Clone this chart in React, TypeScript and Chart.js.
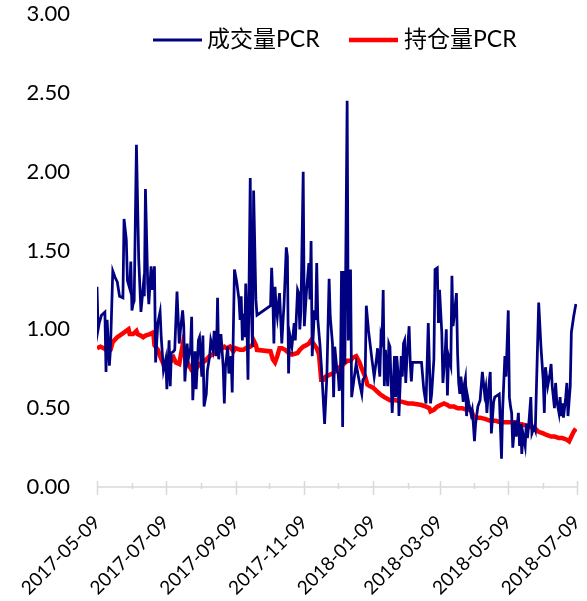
import React, { useEffect, useRef } from 'react';
import { Chart, registerables } from 'chart.js';

Chart.register(...registerables);

// Dates on the x axis (days counted from the first tick label)
const xTickLabels = ['2017-05-09', '2017-07-09', '2017-09-09', '2017-11-09', '2018-01-09', '2018-03-09', '2018-05-09', '2018-07-09'];
const minorTickDates = ['2017-06-09', '2017-08-09', '2017-10-09', '2017-12-09', '2018-02-09', '2018-04-09', '2018-06-09'];
const seriesNames = ['成交量PCR', '持仓量PCR'];

// 成交量PCR : trading day (days since 2017-05-09) and value
const volumeDays = [0, 1, 2, 4, 7, 8, 9, 11, 12, 14, 16, 18, 20, 23, 24, 26, 27, 29, 30, 31, 32, 33, 35, 37, 39, 41, 42, 43, 45, 46, 48, 49, 51, 52, 54, 56, 57, 59, 61, 62, 64, 65, 66, 68, 69, 71, 73, 74, 76, 77, 78, 80, 81, 83, 84, 85, 87, 88, 90, 91, 93, 94, 95, 97, 98, 100, 101, 103, 104, 106, 107, 108, 110, 111, 112, 113, 114, 116, 117, 119, 120, 122, 124, 126, 127, 128, 129, 130, 131, 132, 133, 134, 136, 137, 138, 139, 141, 142, 154, 155, 156, 157, 158, 159, 160, 161, 162, 164, 165, 166, 168, 169, 170, 171, 173, 175, 176, 178, 179, 180, 181, 183, 184, 186, 188, 189, 190, 191, 193, 194, 195, 196, 198, 200, 202, 204, 206, 207, 209, 210, 211, 213, 214, 215, 216, 217, 218, 219, 220, 222, 223, 225, 226, 228, 230, 232, 233, 235, 236, 238, 239, 241, 243, 244, 246, 248, 249, 251, 252, 253, 254, 255, 256, 258, 259, 260, 261, 262, 264, 265, 266, 267, 268, 270, 271, 272, 273, 274, 275, 277, 278, 279, 280, 288, 290, 292, 294, 296, 297, 299, 300, 302, 303, 304, 306, 307, 309, 310, 311, 312, 314, 315, 316, 317, 319, 320, 321, 322, 323, 325, 326, 327, 328, 329, 330, 332, 333, 334, 335, 336, 338, 340, 342, 343, 344, 345, 346, 348, 349, 350, 352, 353, 355, 357, 359, 360, 362, 363, 365, 366, 367, 368, 369, 371, 372, 374, 375, 376, 377, 378, 380, 381, 382, 383, 385, 386, 388, 389, 392, 394, 396, 397, 398, 400, 402, 403, 404, 406, 407, 408, 410, 411, 412, 413, 414, 416, 417, 418, 420, 421, 423, 425];
const volumePCR = [1.27, 1.00, 1.04, 1.09, 1.11, 0.73, 1.06, 0.77, 0.88, 1.37, 1.33, 1.30, 1.21, 1.20, 1.70, 1.57, 1.31, 1.26, 1.43, 1.12, 1.16, 1.18, 2.17, 1.45, 1.11, 1.27, 1.21, 1.89, 1.29, 1.16, 1.40, 1.25, 1.40, 0.79, 1.04, 1.11, 0.95, 0.74, 0.81, 0.62, 0.93, 0.64, 0.85, 0.86, 0.87, 1.24, 0.91, 0.99, 1.12, 1.02, 0.67, 0.91, 0.81, 0.88, 1.08, 0.55, 0.86, 0.62, 0.93, 0.95, 0.70, 0.96, 0.51, 0.59, 0.74, 0.83, 0.93, 0.87, 0.99, 0.83, 1.20, 0.81, 0.97, 0.87, 0.76, 0.53, 0.76, 0.89, 0.72, 0.83, 0.60, 1.38, 1.30, 1.19, 1.06, 1.21, 0.93, 1.10, 0.95, 1.29, 1.04, 0.68, 1.96, 1.12, 0.89, 1.88, 1.19, 1.09, 1.15, 1.39, 1.21, 0.91, 1.27, 1.14, 1.08, 1.16, 1.23, 0.91, 1.04, 1.16, 1.52, 1.46, 0.72, 0.97, 0.89, 1.04, 0.93, 1.25, 1.23, 1.00, 1.12, 2.00, 1.02, 1.25, 1.42, 1.19, 1.56, 0.83, 1.12, 1.06, 1.42, 1.06, 0.89, 0.66, 0.40, 0.70, 1.32, 1.08, 0.91, 0.57, 0.89, 0.74, 0.72, 0.61, 0.68, 1.37, 0.38, 1.37, 0.78, 2.45, 0.93, 1.38, 0.57, 0.68, 0.78, 0.70, 0.66, 0.59, 0.68, 0.70, 1.15, 0.99, 0.87, 0.81, 0.70, 0.81, 0.88, 0.70, 0.96, 0.93, 1.25, 0.64, 0.87, 0.64, 0.91, 0.89, 0.66, 0.47, 0.83, 0.57, 0.83, 0.74, 0.45, 0.83, 0.70, 0.91, 0.93, 0.66, 0.81, 1.02, 0.79, 0.67, 0.79, 0.79, 0.62, 0.53, 1.04, 0.53, 0.59, 0.81, 1.38, 1.39, 1.04, 1.25, 0.98, 0.66, 0.85, 1.00, 0.58, 0.83, 0.77, 1.34, 1.02, 1.08, 1.23, 0.85, 0.66, 0.59, 0.70, 0.54, 0.65, 0.69, 0.45, 0.57, 0.53, 0.46, 0.49, 0.40, 0.29, 0.40, 0.51, 0.55, 0.73, 0.66, 0.59, 0.63, 0.47, 0.66, 0.73, 0.34, 0.54, 0.57, 0.58, 0.59, 0.18, 0.49, 0.83, 0.70, 1.12, 0.57, 0.51, 0.47, 0.25, 0.42, 0.32, 0.47, 0.26, 0.40, 0.21, 0.34, 0.26, 0.40, 0.31, 0.38, 0.57, 0.34, 0.38, 0.36, 1.17, 0.89, 0.68, 0.47, 0.76, 0.64, 0.72, 0.78, 0.64, 0.50, 0.66, 0.55, 0.47, 0.57, 0.45, 0.53, 0.44, 0.57, 0.66, 0.45, 0.64, 0.98, 1.08, 1.16];

// 持仓量PCR : trading day (days since 2017-05-09) and value
const oiDays = [0, 3, 6, 10, 12, 14, 18, 22, 26, 28, 29, 32, 35, 36, 39, 41, 43, 47, 50, 51, 54, 56, 59, 60, 63, 66, 68, 70, 73, 76, 78, 81, 84, 87, 91, 96, 100, 105, 109, 113, 115, 118, 121, 123, 127, 130, 134, 136, 138, 139, 141, 142, 154, 156, 158, 160, 162, 164, 167, 170, 173, 178, 180, 183, 186, 188, 190, 193, 195, 197, 199, 201, 203, 206, 209, 211, 214, 217, 219, 222, 225, 227, 230, 233, 235, 238, 240, 242, 245, 248, 251, 255, 260, 265, 271, 276, 280, 288, 292, 295, 296, 299, 302, 305, 308, 311, 313, 317, 320, 324, 328, 332, 334, 336, 340, 345, 349, 354, 358, 362, 367, 371, 375, 381, 385, 389, 392, 396, 399, 403, 406, 410, 413, 417, 419, 421, 423, 425];
const oiPCR = [0.88, 0.89, 0.88, 0.86, 0.87, 0.92, 0.95, 0.97, 0.99, 1.00, 0.97, 0.97, 0.99, 0.97, 0.96, 0.95, 0.96, 0.97, 0.98, 0.90, 0.87, 0.83, 0.78, 0.76, 0.78, 0.80, 0.82, 0.79, 0.78, 0.90, 0.83, 0.78, 0.74, 0.74, 0.78, 0.80, 0.83, 0.85, 0.87, 0.89, 0.88, 0.89, 0.86, 0.88, 0.87, 0.87, 0.89, 0.89, 0.90, 0.93, 0.90, 0.87, 0.86, 0.81, 0.79, 0.83, 0.88, 0.88, 0.87, 0.85, 0.84, 0.85, 0.87, 0.89, 0.90, 0.91, 0.93, 0.90, 0.88, 0.84, 0.68, 0.68, 0.70, 0.71, 0.72, 0.73, 0.75, 0.77, 0.78, 0.80, 0.80, 0.82, 0.83, 0.79, 0.75, 0.70, 0.65, 0.64, 0.63, 0.61, 0.59, 0.57, 0.55, 0.55, 0.54, 0.53, 0.53, 0.52, 0.51, 0.50, 0.48, 0.49, 0.51, 0.52, 0.53, 0.52, 0.51, 0.51, 0.50, 0.50, 0.49, 0.49, 0.45, 0.44, 0.44, 0.43, 0.42, 0.42, 0.41, 0.41, 0.41, 0.41, 0.40, 0.39, 0.38, 0.37, 0.35, 0.34, 0.33, 0.32, 0.32, 0.31, 0.31, 0.30, 0.29, 0.32, 0.35, 0.37];

const seriesColors = ['#000080', '#FF0000'];

const dayOf = (s: string) => {
  const t = Date.UTC(+s.slice(0, 4), +s.slice(5, 7) - 1, +s.slice(8, 10));
  const t0 = Date.UTC(+xTickLabels[0].slice(0, 4), +xTickLabels[0].slice(5, 7) - 1, +xTickLabels[0].slice(8, 10));
  return Math.round((t - t0) / 86400000);
};

const W = 587;
const H = 601;
const LATIN = 'Lato, "Noto Sans CJK SC", sans-serif';

export default function App() {
  const ref = useRef<HTMLCanvasElement | null>(null);

  useEffect(() => {
    if (!ref.current) return;
    const labelByDay: Record<number, string> = {};
    xTickLabels.forEach((l) => { labelByDay[dayOf(l)] = l; });

    const axisPlugin = {
      id: 'axisDecor',
      beforeDatasetsDraw(chart: any) {
        const { ctx, chartArea, scales } = chart;
        const x = scales.x;
        const y0 = scales.y.getPixelForValue(0);
        ctx.save();
        ctx.strokeStyle = '#d9d9d9';
        ctx.lineWidth = 1.5;
        ctx.beginPath();
        ctx.moveTo(chartArea.left, y0);
        ctx.lineTo(chartArea.right, y0);
        xTickLabels.forEach((l) => {
          const px = Math.round(x.getPixelForValue(dayOf(l))) + 0.5;
          ctx.moveTo(px, y0 - 6);
          ctx.lineTo(px, y0 + 8);
        });
        minorTickDates.forEach((l) => {
          const px = Math.round(x.getPixelForValue(dayOf(l))) + 0.5;
          ctx.moveTo(px, y0 - 4);
          ctx.lineTo(px, y0 + 2);
        });
        ctx.stroke();
        ctx.restore();
      },
      afterDraw(chart: any) {
        const { ctx } = chart;
        ctx.save();
        const items = [
          { x1: 153, x2: 202, tx: 207, w: 3 },
          { x1: 349, x2: 398, tx: 404, w: 4.5 },
        ];
        items.forEach((it, i) => {
          ctx.strokeStyle = seriesColors[i];
          ctx.lineWidth = it.w;
          ctx.beginPath();
          ctx.moveTo(it.x1, 40);
          ctx.lineTo(it.x2, 40);
          ctx.stroke();
          ctx.fillStyle = '#000';
          ctx.font = '23px ' + LATIN;
          ctx.textBaseline = 'middle';
          ctx.textAlign = 'left';
          ctx.fillText(seriesNames[i], it.tx, 40);
        });
        ctx.restore();
      },
    };

    const chart = new Chart(ref.current, {
      type: 'line',
      data: {
        datasets: [
          {
            label: seriesNames[0],
            data: volumeDays.map((d, i) => ({ x: d, y: volumePCR[i] })),
            borderColor: seriesColors[0],
            backgroundColor: seriesColors[0],
            borderWidth: 2.75,
            pointRadius: 0,
            tension: 0,
          },
          {
            label: seriesNames[1],
            data: oiDays.map((d, i) => ({ x: d, y: oiPCR[i] })),
            borderColor: seriesColors[1],
            backgroundColor: seriesColors[1],
            borderWidth: 4.5,
            pointRadius: 0,
            tension: 0,
          },
        ],
      },
      options: {
        responsive: false,
        animation: false,
        layout: { padding: { top: 14, right: 10, left: 0, bottom: 0 } },
        plugins: { legend: { display: false }, tooltip: { enabled: false } },
        scales: {
          x: {
            type: 'linear',
            min: dayOf(xTickLabels[0]),
            max: dayOf(xTickLabels[xTickLabels.length - 1]),
            afterBuildTicks: (s: any) => {
              s.ticks = xTickLabels.map((l) => ({ value: dayOf(l) }));
            },
            afterFit: (s: any) => { s.height = 114; s.paddingLeft = 0; s.paddingRight = 0; },
            ticks: {
              autoSkip: false,
              minRotation: 45,
              maxRotation: 45,
              padding: 24,
              color: '#000',
              font: { family: LATIN, size: 19 },
              callback: (v: any) => labelByDay[Math.round(Number(v))] ?? '',
            },
            grid: { display: false, drawTicks: false },
            border: { display: false },
          },
          y: {
            min: 0,
            max: 3,
            afterFit: (s: any) => { s.width = 97; s.paddingTop = 0; s.paddingBottom = 0; },
            ticks: {
              stepSize: 0.5,
              padding: 27,
              color: '#000',
              font: { family: LATIN, size: 22 },
              callback: (v: any) => Number(v).toFixed(2),
            },
            grid: { display: false, drawTicks: false },
            border: { display: false },
          },
        },
      },
      plugins: [axisPlugin],
    });
    return () => chart.destroy();
  }, []);

  return (
    <div style={{ position: 'absolute', left: 0, top: 0, width: W, height: H, background: '#fff' }}>
      <canvas ref={ref} width={W} height={H} style={{ width: W, height: H }} />
    </div>
  );
}
